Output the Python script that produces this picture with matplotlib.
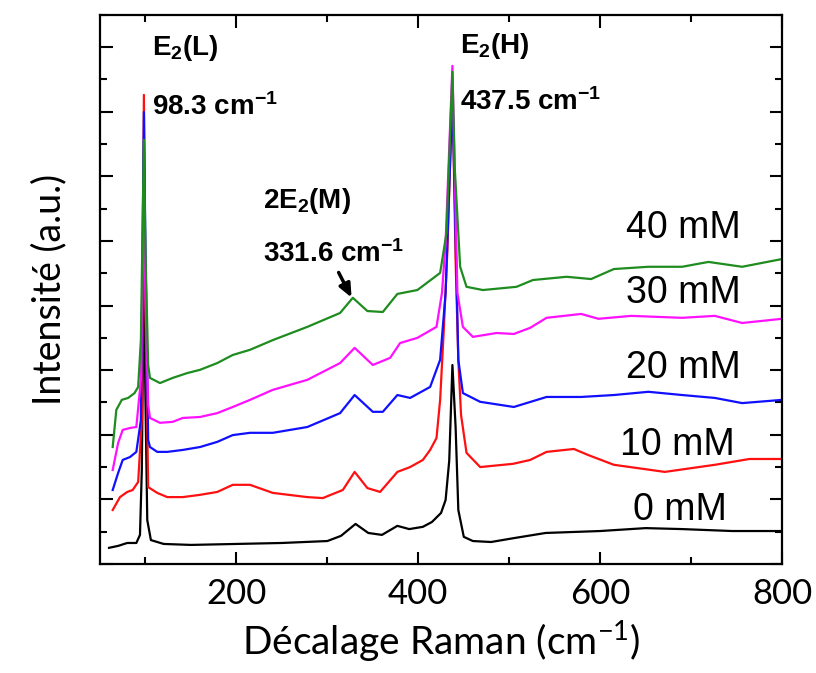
import matplotlib
matplotlib.use("Agg")
import matplotlib.pyplot as plt
from matplotlib.ticker import MultipleLocator

plt.rcParams['mathtext.fontset'] = 'custom'
plt.rcParams['mathtext.rm'] = 'Lato'
plt.rcParams['mathtext.it'] = 'Lato:italic'
plt.rcParams['mathtext.bf'] = 'Liberation Sans:bold'

# ---- data ----
x_0mM = [60, 70, 80, 90, 94, 96, 98.3, 100, 102, 106, 120, 150, 200, 250, 300, 315, 331,
         345, 360, 377, 390, 405, 415, 425, 430, 434, 437.5, 441, 444, 450, 460, 480, 505,
         540, 600, 650, 690, 745, 800]
y_0mM = [0.50, 0.56, 0.65, 0.65, 0.9, 2.9, 9.2, 5.1, 1.36, 0.74, 0.62, 0.59, 0.62, 0.65, 0.71,
         0.87, 1.24, 0.96, 0.9, 1.18, 1.08, 1.15, 1.3, 1.58, 1.98, 3.2, 6.16, 4.24, 1.67, 0.84,
         0.71, 0.68, 0.8, 0.96, 1.02, 1.11, 1.08, 1.02, 1.02]

x_10mM = [64, 72, 80, 86, 92, 96, 98.3, 100, 103, 113, 124, 141, 160, 179, 196, 215, 240,
          278, 295, 317, 330, 344, 358, 377, 391, 405, 413, 420, 424, 428, 432, 437.5, 441,
          444, 447, 453, 468, 504, 523, 541, 571, 587, 615, 671, 726, 764, 800]
y_10mM = [1.67, 2.07, 2.23, 2.29, 2.54, 4.46, 14.52, 8.17, 2.38, 2.2, 2.07, 2.07, 2.14, 2.23,
          2.45, 2.45, 2.2, 2.07, 2.04, 2.29, 2.85, 2.35, 2.23, 2.85, 3.0, 3.22, 3.53, 3.9, 5.08,
          7.24, 9.72, 14.7, 9.4, 6.3, 4.61, 3.44, 3.0, 3.1, 3.22, 3.47, 3.56, 3.37, 3.07, 2.85,
          3.07, 3.25, 3.25]

x_20mM = [64, 70, 75, 83, 90, 95, 98.3, 100, 103, 105, 113, 124, 141, 160, 179, 196, 215,
          240, 278, 314, 330, 350, 361, 377, 391, 413, 424, 430, 437.5, 444, 449, 468, 505,
          541, 579, 615, 653, 690, 726, 756, 800]
y_20mM = [2.29, 2.82, 3.22, 3.31, 3.47, 4.46, 13.99, 9.72, 3.84, 3.62, 3.47, 3.47, 3.53, 3.62,
          3.78, 3.99, 4.06, 4.06, 4.24, 4.67, 5.23, 4.71, 4.71, 5.23, 5.14, 5.48, 6.32, 8.39,
          14.52, 6.32, 5.29, 5.02, 4.86, 5.17, 5.17, 5.23, 5.33, 5.23, 5.14, 4.98, 5.08]

x_30mM = [64, 70, 75, 83, 90, 95, 98.3, 100, 103, 105, 116, 130, 141, 160, 179, 196, 215,
          240, 278, 314, 330, 350, 369, 380, 399, 420, 426, 430, 437.5, 443, 449, 460, 486,
          505, 523, 541, 579, 598, 634, 690, 726, 756, 800]
y_30mM = [2.91, 3.75, 4.15, 4.21, 4.24, 5.7, 11.27, 8.17, 4.92, 4.52, 4.37, 4.4, 4.52, 4.55,
          4.67, 4.86, 5.08, 5.39, 5.7, 6.22, 6.69, 6.16, 6.38, 6.84, 7.0, 7.34, 8.39, 9.94,
          15.42, 8.39, 7.34, 7.03, 7.15, 7.12, 7.31, 7.62, 7.74, 7.59, 7.68, 7.62, 7.68, 7.46,
          7.59]

x_40mM = [64, 68, 74, 81, 88, 92, 95, 98.3, 100, 103, 105, 116, 130, 146, 160, 179, 196,
          215, 240, 278, 314, 328, 344, 361, 377, 399, 424, 431, 435, 437.5, 440, 446, 453,
          471, 508, 526, 563, 590, 615, 653, 690, 719, 756, 800]
y_40mM = [3.62, 4.77, 5.08, 5.14, 5.29, 5.48, 6.93, 13.13, 9.72, 6.16, 5.76, 5.6, 5.76, 5.91,
          6.01, 6.22, 6.47, 6.63, 6.93, 7.34, 7.77, 8.24, 7.83, 7.8, 8.36, 8.48, 9.01, 10.25,
          13.34, 15.23, 12.29, 9.2, 8.58, 8.48, 8.58, 8.79, 8.89, 8.82, 9.13, 9.2, 9.2, 9.35,
          9.2, 9.44]

labels = ["0 mM", "10 mM", "20 mM", "30 mM", "40 mM"]
label_x = [636, 622, 628, 628, 628]
label_y = [1.36, 3.37, 5.76, 8.08, 10.09]
colors = ["black", "#ff1010", "#1010ff", "#ff10ff", "#1e8c1e"]

xs = [x_0mM, x_10mM, x_20mM, x_30mM, x_40mM]
ys = [y_0mM, y_10mM, y_20mM, y_30mM, y_40mM]

# ---- figure ----
fig = plt.figure(figsize=(8.16, 6.73), dpi=100)
ax = fig.add_axes([0.1225, 0.162, 0.836, 0.816])

for x, y, c in zip(xs, ys, colors):
    ax.plot(x, y, color=c, lw=1.6)

for lab, lx, ly in zip(labels, label_x, label_y):
    ax.text(lx, ly, lab, fontsize=27, family="Liberation Sans", ha="left", va="baseline")

bold = dict(fontsize=20, family="Liberation Sans", fontweight="bold", ha="left", va="baseline")
ax.text(107, 15.76, r"E$\mathbf{_2}$(L)", **bold)
ax.text(107, 13.9, r"98.3 cm$\mathbf{^{-1}}$", **bold)
ax.text(229, 11.02, r"2E$\mathbf{_2}$(M)", **bold)
ax.text(229, 9.35, r"331.6 cm$\mathbf{^{-1}}$", **bold)
ax.text(446, 15.82, r"E$\mathbf{_2}$(H)", **bold)
ax.text(446, 14.06, r"437.5 cm$\mathbf{^{-1}}$", **bold)
ax.annotate("", xy=(328, 8.17), xytext=(311, 9.1),
            arrowprops=dict(arrowstyle="-|>,head_length=0.8,head_width=0.35", color="black", lw=2.5))

ax.set_xlim(50, 800)
ax.set_ylim(0, 17)
ax.xaxis.set_major_locator(MultipleLocator(200))
ax.xaxis.set_minor_locator(MultipleLocator(100))
ax.yaxis.set_major_locator(MultipleLocator(2))
ax.yaxis.set_minor_locator(MultipleLocator(1))
ax.tick_params(which="both", direction="in", top=True, right=True, width=1.5)
ax.tick_params(which="major", length=9)
ax.tick_params(which="minor", length=5)
ax.tick_params(axis="x", labelsize=25, pad=10)
ax.tick_params(axis="y", labelleft=False)
for lbl in ax.get_xticklabels():
    lbl.set_family("Lato")
for s in ax.spines.values():
    s.set_linewidth(1.6)

ax.set_xlabel(r"Décalage Raman (cm$^{-1}$)", fontsize=28, family="Lato", labelpad=6)
ax.set_ylabel("Intensité (a.u.)", fontsize=27, family="Lato", labelpad=20)

fig.savefig("out.png", dpi=100)
